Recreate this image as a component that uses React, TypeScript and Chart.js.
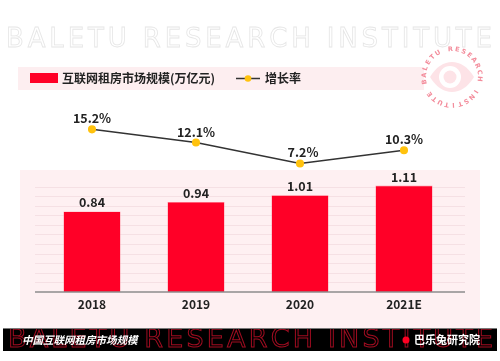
import React, { useEffect, useRef } from "react";
import { Chart, registerables } from "chart.js";

Chart.register(...registerables);

const categories = ["2018", "2019", "2020", "2021E"];
const marketSize = [0.84, 0.94, 1.01, 1.11];
const sizeLabels = ["0.84", "0.94", "1.01", "1.11"];
const growthRate = [15.2, 12.1, 7.2, 10.3];
const growthLabels = ["15.2%", "12.1%", "7.2%", "10.3%"];
const gridValues = [0.1, 0.2, 0.3, 0.4, 0.5, 0.6, 0.7, 0.8, 0.9, 1.0, 1.1];

const legendBarLabel = "互联网租房市场规模(万亿元)";
const legendLineLabel = "增长率";
const footerLeft = "中国互联网租房市场规模";
const footerRight = "巴乐兔研究院";
const watermark = "BALETU RESEARCH INSTITUTE";

const CJK = '"Noto Sans CJK SC", "Noto Sans", sans-serif';
const BAR_RED = "#ff0027";
const DOT_YELLOW = "#ffc20e";
const TEXT = "#222222";

function spacedText(ctx: CanvasRenderingContext2D, text: string, x0: number, x1: number, y: number, stroke: boolean) {
  const chars = text.split("");
  const widths = chars.map((c) => ctx.measureText(c).width);
  const total = widths.reduce((a, b) => a + b, 0);
  const gap = (x1 - x0 - total) / (chars.length - 1);
  let x = x0;
  chars.forEach((c, i) => {
    if (c !== " ") {
      if (stroke) ctx.strokeText(c, x, y);
      else ctx.fillText(c, x, y);
    }
    x += widths[i] + gap;
  });
}

function drawLogo(ctx: CanvasRenderingContext2D) {
  const cx = 452;
  const cy = 77;
  ctx.save();
  ctx.fillStyle = "#fde3e7";
  ctx.beginPath();
  ctx.moveTo(cx - 22, cy);
  ctx.bezierCurveTo(cx - 10, cy - 20, cx + 10, cy - 20, cx + 22, cy);
  ctx.bezierCurveTo(cx + 10, cy + 20, cx - 10, cy + 20, cx - 22, cy);
  ctx.fill();
  ctx.fillStyle = "#ffffff";
  ctx.beginPath();
  ctx.arc(cx - 2, cy, 11, 0, Math.PI * 2);
  ctx.fill();
  ctx.fillStyle = "#fde3e7";
  ctx.beginPath();
  ctx.arc(cx - 2, cy, 6.5, 0, Math.PI * 2);
  ctx.fill();

  const ring = watermark + " ";
  const step = (Math.PI * 2) / ring.length;
  const start = (-100 * Math.PI) / 180;
  ctx.fillStyle = "#f38c9b";
  ctx.font = 'bold 6.5px "DejaVu Sans", sans-serif';
  ctx.textAlign = "center";
  ctx.textBaseline = "alphabetic";
  for (let i = 0; i < ring.length; i++) {
    const ch = ring[i];
    if (ch === " ") continue;
    ctx.save();
    ctx.translate(cx, cy);
    ctx.rotate(start + i * step);
    ctx.translate(0, -26);
    ctx.fillText(ch, 0, 0);
    ctx.restore();
  }
  ctx.restore();
}

const decorPlugin = {
  id: "decor",
  beforeDraw(chart: any) {
    const ctx: CanvasRenderingContext2D = chart.ctx;
    ctx.save();
    ctx.fillStyle = "#ffffff";
    ctx.fillRect(0, 0, chart.width, chart.height);

    // top watermark
    ctx.strokeStyle = "#e6e6e6";
    ctx.lineWidth = 0.8;
    ctx.font = '26px "DejaVu Sans", sans-serif';
    ctx.textBaseline = "alphabetic";
    ctx.textAlign = "left";
    spacedText(ctx, watermark, 6, 492, 47, true);

    // legend band
    ctx.fillStyle = "#fdeef0";
    ctx.fillRect(18, 67, 406, 23);
    ctx.fillStyle = BAR_RED;
    ctx.fillRect(30, 73, 28, 10);
    ctx.fillStyle = TEXT;
    ctx.font = `bold 12px ${CJK}`;
    ctx.textBaseline = "middle";
    ctx.fillText(legendBarLabel, 62, 78.5);
    ctx.strokeStyle = "#333333";
    ctx.lineWidth = 1.5;
    ctx.beginPath();
    ctx.moveTo(236, 78.5);
    ctx.lineTo(260, 78.5);
    ctx.stroke();
    ctx.fillStyle = DOT_YELLOW;
    ctx.beginPath();
    ctx.arc(248, 78.5, 3.3, 0, Math.PI * 2);
    ctx.fill();
    ctx.fillStyle = TEXT;
    ctx.fillText(legendLineLabel, 265, 78.5);

    drawLogo(ctx);

    // pink chart background
    ctx.fillStyle = "#fef0f2";
    ctx.fillRect(20, 170, 460, 158);

    // faint grid
    const y = chart.scales.y;
    ctx.strokeStyle = "rgba(235, 205, 210, 0.55)";
    ctx.lineWidth = 0.8;
    gridValues.forEach((v) => {
      const py = Math.round(y.getPixelForValue(v)) + 0.5;
      ctx.beginPath();
      ctx.moveTo(35, py);
      ctx.lineTo(465, py);
      ctx.stroke();
    });
    ctx.restore();
  },
  afterDatasetsDraw(chart: any) {
    const ctx: CanvasRenderingContext2D = chart.ctx;
    ctx.save();
    // baseline
    const yb = chart.scales.y.getPixelForValue(0);
    ctx.strokeStyle = "#8c8c8c";
    ctx.lineWidth = 1.5;
    ctx.beginPath();
    ctx.moveTo(35, yb);
    ctx.lineTo(465, yb);
    ctx.stroke();

    ctx.fillStyle = TEXT;
    ctx.textAlign = "center";
    ctx.textBaseline = "alphabetic";
    ctx.font = `bold 12.5px ${CJK}`;
    const barMeta = chart.getDatasetMeta(1);
    barMeta.data.forEach((el: any, i: number) => {
      ctx.fillText(sizeLabels[i], el.x, el.y - 4);
    });
    const lineMeta = chart.getDatasetMeta(0);
    lineMeta.data.forEach((el: any, i: number) => {
      ctx.fillText(growthLabels[i], el.x + (i === 2 ? 3 : 0), el.y - 6);
    });
    ctx.restore();
  },
  afterDraw(chart: any) {
    const ctx: CanvasRenderingContext2D = chart.ctx;
    ctx.save();
    ctx.fillStyle = "#000000";
    ctx.fillRect(3, 328, 494, 23);
    ctx.strokeStyle = "#777777";
    ctx.lineWidth = 1;
    ctx.beginPath();
    ctx.moveTo(3, 328.5);
    ctx.lineTo(497, 328.5);
    ctx.stroke();
    ctx.beginPath();
    ctx.rect(3, 329, 494, 22);
    ctx.clip();
    ctx.strokeStyle = "#a00c20";
    ctx.lineWidth = 1;
    ctx.font = '27px "DejaVu Sans", sans-serif';
    ctx.textBaseline = "alphabetic";
    ctx.textAlign = "left";
    spacedText(ctx, watermark, 8, 493, 347, true);

    ctx.fillStyle = "#ffffff";
    ctx.textBaseline = "middle";
    ctx.font = `italic bold 10.5px ${CJK}`;
    ctx.fillText(footerLeft, 22, 340);
    ctx.font = `bold 11px ${CJK}`;
    ctx.fillText(footerRight, 414, 340);
    ctx.fillStyle = "#ff0022";
    ctx.beginPath();
    ctx.arc(406, 340, 3.5, 0, Math.PI * 2);
    ctx.fill();
    ctx.restore();
  },
};

export default function App() {
  const ref = useRef<HTMLCanvasElement | null>(null);
  useEffect(() => {
    if (!ref.current) return;
    const chart = new Chart(ref.current, {
      type: "bar",
      data: {
        labels: categories,
        datasets: [
          {
            type: "line",
            label: legendLineLabel,
            data: growthRate,
            yAxisID: "y2",
            borderColor: "#333333",
            borderWidth: 1.5,
            pointBackgroundColor: DOT_YELLOW,
            pointBorderColor: DOT_YELLOW,
            pointRadius: 3.3,
            tension: 0,
            order: 0,
          } as any,
          {
            type: "bar",
            label: legendBarLabel,
            data: marketSize,
            yAxisID: "y",
            backgroundColor: BAR_RED,
            borderColor: "#ff8a9a",
            borderWidth: 0.6,
            categoryPercentage: 1,
            barPercentage: 0.55,
            order: 1,
          },
        ],
      },
      options: {
        animation: false,
        responsive: true,
        maintainAspectRatio: false,
        layout: { padding: { left: 40, right: 44, top: 113, bottom: 44.6 } },
        plugins: { legend: { display: false }, tooltip: { enabled: false } },
        scales: {
          x: {
            grid: { display: false, drawTicks: false },
            border: { display: false },
            ticks: { color: TEXT, padding: 5, font: { family: CJK, weight: "bold", size: 12 } },
          },
          y: { display: false, min: 0, max: 1.867 },
          y2: { display: false, min: -22.93, max: 19.03 },
        },
      },
      plugins: [decorPlugin],
    });
    return () => chart.destroy();
  }, []);
  return (
    <div style={{ position: "absolute", left: 0, top: 0, width: 500, height: 361 }}>
      <canvas ref={ref} />
    </div>
  );
}
